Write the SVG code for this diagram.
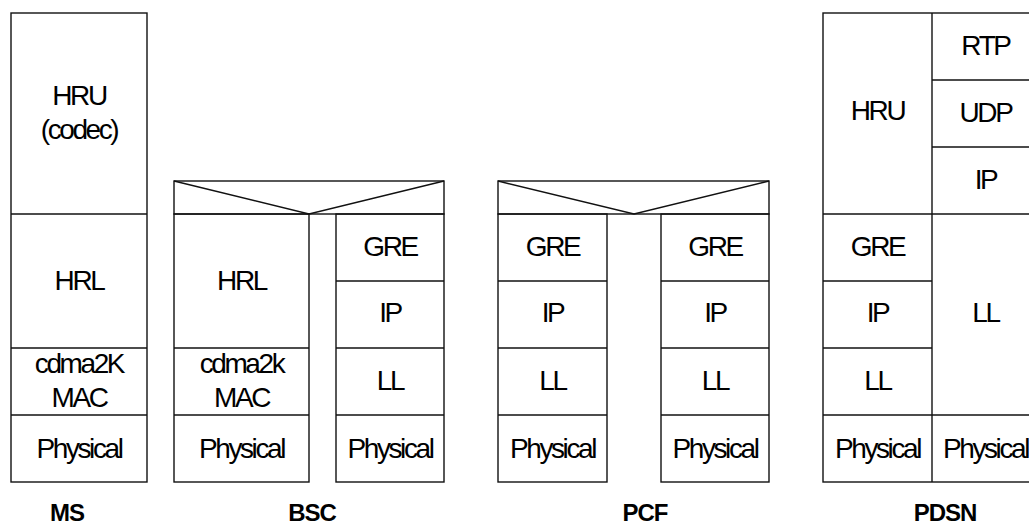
<svg xmlns="http://www.w3.org/2000/svg" width="1029" height="525" viewBox="0 0 1029 525">
<style>
rect, line, path { fill: none; stroke: #111; stroke-width: 1.4; }
text { font-family: "Liberation Sans", Arial, sans-serif; font-size: 28px; letter-spacing: -2.4px; text-anchor: middle; fill: #000; }
text.lbl { font-size: 24px; font-weight: bold; letter-spacing: -1px; }
</style>
<rect x="0" y="0" width="1029" height="525" style="fill:#fff;stroke:none"/>
<g id="MS">
  <rect x="11" y="13" width="136" height="469"/>
  <line x1="11" y1="214" x2="147" y2="214"/>
  <line x1="11" y1="348" x2="147" y2="348"/>
  <line x1="11" y1="415" x2="147" y2="415"/>
  <text x="79" y="105">HRU</text>
  <text x="79" y="139">(codec)</text>
  <text x="79" y="290">HRL</text>
  <text x="79" y="373">cdma2K</text>
  <text x="79" y="407">MAC</text>
  <text x="79" y="458">Physical</text>
  <text class="lbl" x="67" y="521">MS</text>
</g>
<g id="BSC">
  <rect x="174" y="181" width="270" height="33"/>
  <path d="M174,181 L309,214 L444,181"/>
  <rect x="174" y="214" width="135" height="268"/>
  <line x1="174" y1="348" x2="309" y2="348"/>
  <line x1="174" y1="415" x2="309" y2="415"/>
  <rect x="336" y="214" width="108" height="268"/>
  <line x1="336" y1="281" x2="444" y2="281"/>
  <line x1="336" y1="348" x2="444" y2="348"/>
  <line x1="336" y1="415" x2="444" y2="415"/>
  <text x="241.5" y="290">HRL</text>
  <text x="241.5" y="373">cdma2k</text>
  <text x="241.5" y="407">MAC</text>
  <text x="241.5" y="458">Physical</text>
  <text x="390" y="256">GRE</text>
  <text x="390" y="322">IP</text>
  <text x="390" y="390">LL</text>
  <text x="390" y="458">Physical</text>
  <text class="lbl" x="312" y="521">BSC</text>
</g>
<g id="PCF">
  <rect x="498" y="181" width="271" height="33"/>
  <path d="M498,181 L634,214 L769,181"/>
  <rect x="498" y="214" width="109" height="268"/>
  <line x1="498" y1="281" x2="607" y2="281"/>
  <line x1="498" y1="348" x2="607" y2="348"/>
  <line x1="498" y1="415" x2="607" y2="415"/>
  <rect x="661" y="214" width="108" height="268"/>
  <line x1="661" y1="281" x2="769" y2="281"/>
  <line x1="661" y1="348" x2="769" y2="348"/>
  <line x1="661" y1="415" x2="769" y2="415"/>
  <text x="552.5" y="256">GRE</text>
  <text x="552.5" y="322">IP</text>
  <text x="552.5" y="390">LL</text>
  <text x="552.5" y="458">Physical</text>
  <text x="715" y="256">GRE</text>
  <text x="715" y="322">IP</text>
  <text x="715" y="390">LL</text>
  <text x="715" y="458">Physical</text>
  <text class="lbl" x="645" y="521">PCF</text>
</g>
<g id="PDSN">
  <rect x="823" y="13" width="216" height="469"/>
  <line x1="932" y1="13" x2="932" y2="482"/>
  <line x1="823" y1="214" x2="932" y2="214"/>
  <line x1="823" y1="281" x2="932" y2="281"/>
  <line x1="823" y1="348" x2="932" y2="348"/>
  <line x1="823" y1="415" x2="1039" y2="415"/>
  <line x1="932" y1="80" x2="1039" y2="80"/>
  <line x1="932" y1="147" x2="1039" y2="147"/>
  <line x1="932" y1="214" x2="1039" y2="214"/>
  <text x="877.5" y="120">HRU</text>
  <text x="877.5" y="256">GRE</text>
  <text x="877.5" y="322">IP</text>
  <text x="877.5" y="390">LL</text>
  <text x="877.5" y="458">Physical</text>
  <text x="985.5" y="55">RTP</text>
  <text x="985.5" y="122">UDP</text>
  <text x="985.5" y="189">IP</text>
  <text x="985.5" y="322">LL</text>
  <text x="985.5" y="458">Physical</text>
  <text class="lbl" x="945" y="521">PDSN</text>
</g>
<g id="connectors"/>
</svg>
